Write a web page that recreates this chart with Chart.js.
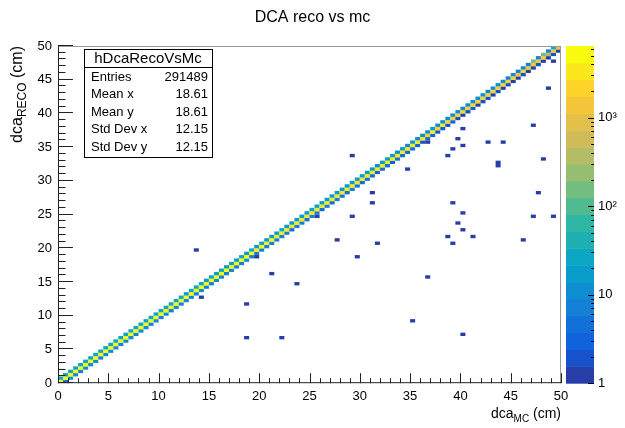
<!DOCTYPE html>
<html>
<head>
<meta charset="utf-8">
<title>DCA reco vs mc</title>
<script src="https://cdn.jsdelivr.net/npm/chart.js@4.4.1/dist/chart.umd.min.js"></script>
<style>
    html, body { margin: 0; padding: 0; background: #fff; }
</style>
</head>
<body>
<canvas id="myChart" width="625" height="428"></canvas>
<script>
const FONT = "'Liberation Sans', Arial, Helvetica, sans-serif";

// histogram hDcaRecoVsMc, 100 x 100 bins of 0.5 cm
const binWidth = 0.5;
const nBins = 100;

// counts on the diagonal, bin (i, i)
const diagCounts = [
    5600, 5500, 5450, 5300, 5350, 5200, 5250, 5100, 5150, 5050,
    5000, 5050, 4950, 4900, 4950, 4850, 4800, 4850, 4750, 4700,
    4750, 4650, 4600, 4650, 4550, 4500, 4550, 4450, 4400, 4450,
    4350, 4400, 4300, 4350, 4250, 4300, 4250, 4200, 4300, 4150,
    4250, 4100, 4200, 4050, 4150, 3950, 4100, 3850, 4050, 3800,
    4000, 3700, 3950, 3600, 3900, 3500, 3850, 3400, 3800, 3300,
    3700, 3200, 3600, 3100, 3500, 3000, 3400, 2900, 3300, 2800,
    3100, 2700, 2900, 2600, 2800, 2500, 2700, 2400, 2600, 2300,
    2500, 2200, 2400, 2100, 2300, 2000, 2200, 1900, 2100, 1800,
    1900, 1700, 1800, 1600, 1700, 1500, 1400, 300, 1300, 1200
];
// bin (i, i+1), just above the diagonal
const upperCounts = [
    32, 30, 28, 31, 27, 29, 26, 30, 25, 28,
    27, 24, 29, 25, 28, 23, 27, 24, 26, 22,
    26, 23, 25, 22, 27, 21, 25, 22, 24, 21,
    24, 20, 23, 21, 22, 19, 24, 20, 22, 18,
    22, 19, 21, 18, 23, 17, 20, 18, 19, 16,
    20, 16, 19, 15, 18, 17, 16, 14, 18, 15,
    16, 14, 17, 13, 15, 14, 16, 12, 14, 13,
    14, 12, 13, 11, 15, 10, 12, 11, 13, 9,
    12, 10, 11, 9, 12, 8, 10, 9, 11, 8,
    9, 7, 10, 6, 160, 8, 140, 6, 30
];
// bin (i+1, i), just below the diagonal
const lowerCounts = [
    4, 9, 10, 8, 11, 9, 10, 8, 11, 9,
    10, 8, 9, 11, 8, 10, 9, 7, 10, 8,
    9, 8, 10, 7, 9, 8, 7, 9, 8, 7,
    9, 7, 8, 6, 8, 7, 9, 6, 7, 8,
    6, 7, 8, 6, 7, 5, 7, 6, 5, 7,
    6, 5, 6, 4, 6, 5, 4, 6, 5, 4,
    5, 4, 3, 5, 4, 3, 4, 5, 3, 4,
    3, 2, 4, 3, 2, 3, 2, 3, 2, 1,
    2, 3, 1, 2, 2, 1, 2, 1, 2, 1,
    1, 2, 1, 1, 2, 1, 1, 2, 1
];
// single entries away from the diagonal (bin centres)
const strayX = [13.75, 14.25, 18.75, 18.75, 22.25, 21.25, 23.75, 19.75, 25.75, 27.75,
    29.25, 29.75, 29.25, 31.25, 31.25, 31.75, 34.75, 35.25, 36.75, 36.75,
    38.75, 38.75, 39.25, 39.25, 39.75, 40.25, 40.25, 39.25, 39.75, 40.25,
    40.25, 40.25, 41.25, 42.75, 44.25, 43.75, 43.75, 46.25, 47.25, 47.25,
    47.75, 48.25, 48.75, 49.25, 49.25];
const strayY = [19.75, 12.75, 11.75, 6.75, 6.75, 16.25, 14.75, 18.75, 24.75, 21.25,
    33.75, 18.75, 24.75, 28.25, 26.75, 20.75, 31.75, 9.25, 15.75, 35.75,
    33.75, 21.75, 20.75, 34.75, 36.25, 37.75, 35.25, 26.75, 23.75, 25.25,
    22.75, 7.25, 21.75, 35.75, 35.75, 32.25, 32.75, 21.25, 38.25, 24.75,
    28.25, 33.25, 43.75, 24.75, 47.75];
const strayCounts = [1, 1, 1, 1, 1, 1, 1, 1, 1, 1, 1, 1, 1, 1, 1, 1, 1, 1, 1, 1, 1, 1, 1,
    1, 1, 1, 1, 1, 1, 1, 1, 1, 1, 1, 1, 1, 1, 1, 1, 1, 1, 1, 1, 1, 1];

// axes
const xTickValues = [0, 5, 10, 15, 20, 25, 30, 35, 40, 45, 50];
const yTickValues = [0, 5, 10, 15, 20, 25, 30, 35, 40, 45, 50];
const zMin = 1;
const zMax = 6450;
const nLevels = 20;
const zTickValues = [1, 2, 3, 4, 5, 6, 7, 8, 9, 10, 20, 30, 40, 50, 60, 70, 80, 90,
    100, 200, 300, 400, 500, 600, 700, 800, 900, 1000, 2000, 3000, 4000, 5000, 6000];
const zMajorValues = [1, 10, 100, 1000];
const zMajorLabels = ['1', '10', '10\u00B2', '10\u00B3'];

// stats box
const statName = 'hDcaRecoVsMc';
const statLabels = ['Entries', 'Mean x', 'Mean y', 'Std Dev x', 'Std Dev y'];
const statValues = ['291489', '18.61', '18.61', '12.15', '12.15'];

// ROOT kBird palette
const birdStops = [0.0, 0.125, 0.25, 0.375, 0.5, 0.625, 0.75, 0.875, 1.0];
const birdR = [0.2082, 0.0592, 0.0780, 0.0232, 0.1802, 0.5301, 0.8186, 0.9956, 0.9764];
const birdG = [0.1664, 0.3599, 0.5041, 0.6419, 0.7178, 0.7492, 0.7328, 0.7862, 0.9832];
const birdB = [0.5293, 0.8684, 0.8385, 0.7914, 0.6425, 0.4662, 0.3499, 0.1968, 0.0539];

const birdColor = (t) => {
    let k = 0;
    while (k < birdStops.length - 2 && t > birdStops[k + 1]) k++;
    const f = (t - birdStops[k]) / (birdStops[k + 1] - birdStops[k]);
    const c = (arr) => Math.round(255 * (arr[k] + f * (arr[k + 1] - arr[k])));
    return `rgb(${c(birdR)},${c(birdG)},${c(birdB)})`;
};
const levelColor = (l) => birdColor(Math.floor((l + 0.99) * 255 / nLevels) / 254);
const levelOf = (v) => {
    const f = (Math.log10(v) - Math.log10(zMin)) / (Math.log10(zMax) - Math.log10(zMin));
    return Math.max(0, Math.min(nLevels - 1, Math.floor(f * nLevels)));
};

// build the cell list
const cells = [];
for (let i = 0; i < nBins; i++) {
    const c = (i + 0.5) * binWidth;
    cells.push({x: c, y: c, v: diagCounts[i]});
    if (i < nBins - 1) {
        cells.push({x: c, y: c + binWidth, v: upperCounts[i]});
        cells.push({x: c + binWidth, y: c, v: lowerCounts[i]});
    }
}
strayX.forEach((sx, i) => cells.push({x: sx, y: strayY[i], v: strayCounts[i]}));

const drawParts = (ctx, parts, x, y, align) => {
    let total = 0;
    parts.forEach(p => {
        ctx.font = p.size + 'px ' + FONT;
        p.w = ctx.measureText(p.text).width;
        total += p.w;
    });
    let cx = align === 'right' ? x - total : x;
    parts.forEach(p => {
        ctx.font = p.size + 'px ' + FONT;
        ctx.fillText(p.text, cx, y + p.dy);
        cx += p.w;
    });
};

const histPlugin = {
    id: 'hist',
    beforeDatasetsDraw(chart) {
        const {ctx, chartArea, scales} = chart;
        const x = scales.x, y = scales.y, z = scales.z;
        ctx.save();
        ctx.beginPath();
        ctx.rect(chartArea.left, chartArea.top, chartArea.width, chartArea.height);
        ctx.clip();
        chart.data.datasets[0].data.forEach(c => {
            const x0 = x.getPixelForValue(c.x - binWidth / 2);
            const x1 = x.getPixelForValue(c.x + binWidth / 2);
            const y0 = y.getPixelForValue(c.y + binWidth / 2);
            const y1 = y.getPixelForValue(c.y - binWidth / 2);
            ctx.fillStyle = levelColor(levelOf(c.v));
            ctx.fillRect(x0, y0, x1 - x0, y1 - y0);
        });
        ctx.restore();

        // colour bar
        const barL = chartArea.right + 5, barR = chartArea.right + 33;
        const lmin = Math.log10(zMin), lmax = Math.log10(zMax);
        for (let l = 0; l < nLevels; l++) {
            const top = z.getPixelForValue(Math.pow(10, lmin + (l + 1) * (lmax - lmin) / nLevels));
            const bot = z.getPixelForValue(Math.pow(10, lmin + l * (lmax - lmin) / nLevels));
            ctx.fillStyle = levelColor(l);
            ctx.fillRect(barL, top, barR - barL, bot - top + 0.5);
        }
        ctx.strokeStyle = '#000';
        ctx.lineWidth = 1;
        ctx.beginPath();
        zTickValues.forEach(v => {
            const py = Math.round(z.getPixelForValue(v)) + 0.5;
            const len = zMajorValues.includes(v) ? 6 : 3;
            ctx.moveTo(barR, py);
            ctx.lineTo(barR - len, py);
        });
        ctx.stroke();
    },
    afterDatasetsDraw(chart) {
        const {ctx, chartArea, scales} = chart;
        const x = scales.x, y = scales.y;
        const {left, right, top, bottom} = chartArea;

        // frame
        ctx.save();
        ctx.lineWidth = 1;
        ctx.strokeStyle = '#999';
        ctx.beginPath();
        ctx.moveTo(left, top + 0.5);
        ctx.lineTo(right, top + 0.5);
        ctx.moveTo(right - 0.5, top);
        ctx.lineTo(right - 0.5, bottom);
        ctx.stroke();
        ctx.strokeStyle = '#222';
        ctx.beginPath();
        ctx.moveTo(left + 0.5, top);
        ctx.lineTo(left + 0.5, bottom);
        ctx.moveTo(left, bottom - 0.5);
        ctx.lineTo(right, bottom - 0.5);

        // ticks point into the frame
        for (let v = 0; v <= 50; v++) {
            const major = v % 5 === 0;
            const px = Math.round(x.getPixelForValue(v)) + 0.5;
            ctx.moveTo(px, bottom);
            ctx.lineTo(px, bottom - (major ? 10 : 5));
            const py = Math.round(y.getPixelForValue(v)) - 0.5;
            ctx.moveTo(left, py);
            ctx.lineTo(left + (major ? 15 : 7.5), py);
        }
        ctx.stroke();

        // axis titles
        ctx.fillStyle = '#000';
        ctx.textBaseline = 'alphabetic';
        drawParts(ctx, [
            {text: 'dca', size: 14, dy: 0},
            {text: 'MC', size: 10, dy: 4},
            {text: ' (cm)', size: 14, dy: 0}
        ], right, 418, 'right');

        ctx.save();
        ctx.translate(22, top);
        ctx.rotate(-Math.PI / 2);
        drawParts(ctx, [
            {text: 'dca', size: 16, dy: 0},
            {text: 'RECO', size: 12, dy: 4},
            {text: ' (cm)', size: 16, dy: 0}
        ], 0, 0, 'right');
        ctx.restore();

        // stats box
        const bx = 84, by = 49, bw = 128, bh = 108, rowH = 17.5;
        ctx.fillStyle = '#fff';
        ctx.fillRect(bx, by, bw, bh);
        ctx.strokeStyle = '#000';
        ctx.strokeRect(bx + 0.5, by + 0.5, bw, bh);
        ctx.beginPath();
        ctx.moveTo(bx, by + 18.5);
        ctx.lineTo(bx + bw, by + 18.5);
        ctx.stroke();
        ctx.fillStyle = '#000';
        ctx.textBaseline = 'middle';
        ctx.textAlign = 'center';
        ctx.font = '15px ' + FONT;
        ctx.fillText(statName, bx + bw / 2, by + 10);
        ctx.font = '13px ' + FONT;
        statLabels.forEach((lab, i) => {
            const ry = by + 28 + i * rowH;
            ctx.textAlign = 'left';
            ctx.fillText(lab, bx + 7, ry);
            ctx.textAlign = 'right';
            ctx.fillText(statValues[i], bx + bw - 4, ry);
        });
        ctx.restore();
    }
};

const data = {
    datasets: [{
        label: statName,
        data: cells,
        pointRadius: 0,
        pointHoverRadius: 0,
        showLine: false
    }]
};

const tickFont = {family: FONT, size: 13};

const config = {
    type: 'scatter',
    data: data,
    options: {
        responsive: false,
        animation: false,
        events: [],
        layout: {padding: 0},
        plugins: {
            legend: {display: false},
            tooltip: {enabled: false},
            title: {
                display: true,
                text: 'DCA reco vs mc',
                color: '#000',
                font: {family: FONT, size: 16, weight: 'normal'},
                padding: {top: 8, bottom: 18.8}
            }
        },
        scales: {
            x: {
                type: 'linear',
                min: 0,
                max: 50,
                grid: {display: false, drawTicks: false},
                border: {display: false},
                ticks: {color: '#000', font: tickFont, padding: 5, maxRotation: 0, autoSkip: false},
                afterBuildTicks: (s) => { s.ticks = xTickValues.map(v => ({value: v})); },
                afterFit: (s) => { s.height = 33; }
            },
            y: {
                type: 'linear',
                min: 0,
                max: 50,
                grid: {display: false, drawTicks: false},
                border: {display: false},
                ticks: {color: '#000', font: tickFont, padding: 6, autoSkip: false},
                afterBuildTicks: (s) => { s.ticks = yTickValues.map(v => ({value: v})); },
                afterFit: (s) => { s.width = 58; }
            },
            z: {
                type: 'logarithmic',
                axis: 'y',
                position: 'right',
                min: zMin,
                max: zMax,
                grid: {display: false, drawTicks: false},
                border: {display: false},
                ticks: {
                    color: '#000',
                    font: tickFont,
                    padding: 37,
                    autoSkip: false,
                    callback: (v) => {
                        const k = zMajorValues.indexOf(v);
                        return k >= 0 ? zMajorLabels[k] : '';
                    }
                },
                afterBuildTicks: (s) => { s.ticks = zTickValues.map(v => ({value: v})); },
                afterFit: (s) => { s.width = 64; }
            }
        }
    },
    plugins: [histPlugin]
};

var myChart = new Chart(document.getElementById('myChart'), config);
</script>
</body>
</html>
